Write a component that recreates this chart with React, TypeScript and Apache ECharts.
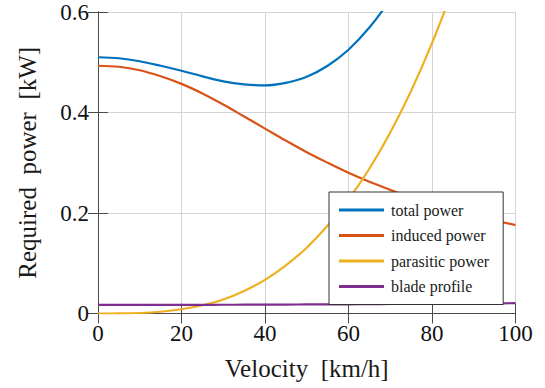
import React, { useEffect, useRef } from "react";
import * as echarts from "echarts";

// Flight speed samples [km/h]
const velocity = [0, 5, 10, 15, 20, 25, 30, 35, 40, 45, 50, 55, 60, 65, 70, 75, 80, 85, 90, 95, 100];

// Power components [kW]
const totalPower = [0.510, 0.508, 0.502, 0.493, 0.483, 0.472, 0.462, 0.456, 0.454, 0.459, 0.471, 0.493, 0.525, 0.569, 0.625, 0.693];
const inducedPower = [0.493, 0.491, 0.484, 0.472, 0.457, 0.438, 0.416, 0.392, 0.368, 0.344, 0.321, 0.300, 0.280, 0.262, 0.246, 0.231, 0.218, 0.206, 0.195, 0.185, 0.176];
const parasiticPower = [0, 0.0001, 0.001, 0.0035, 0.0084, 0.0164, 0.028, 0.045, 0.067, 0.096, 0.131, 0.175, 0.227, 0.288, 0.360, 0.443, 0.538, 0.645];
const bladeProfile = [0.0170, 0.0170, 0.0171, 0.0171, 0.0172, 0.0173, 0.0174, 0.0175, 0.0176, 0.0178, 0.0180, 0.0181, 0.0183, 0.0186, 0.0189, 0.0190, 0.0192, 0.0195, 0.0198, 0.0201, 0.0205];

const seriesNames = ["total power", "induced power", "parasitic power", "blade profile"];
const seriesColors = ["#0072BD", "#D95319", "#EDB120", "#7E2F8E"];

const pair = (ys: number[]) => ys.map((y, i) => [velocity[i], y]);

const FONT = "'Liberation Serif', 'Times New Roman', Times, serif";

export default function App() {
  const ref = useRef<HTMLDivElement>(null);

  useEffect(() => {
    if (!ref.current) return;
    const chart = echarts.init(ref.current, undefined, { renderer: "svg" });
    const axisColor = "#4a4a4a";
    const gridColor = "#d4d4d4";
    const tick = { show: true, inside: true, length: 10, lineStyle: { color: axisColor, width: 1 } };
    const datasets = [totalPower, inducedPower, parasiticPower, bladeProfile];

    chart.setOption({
      animation: false,
      backgroundColor: "#ffffff",
      textStyle: { fontFamily: FONT },
      grid: { left: 98, right: 29.5, top: 12, bottom: 74.5, containLabel: false },
      legend: {
        data: seriesNames,
        orient: "vertical",
        left: 329,
        top: 192,
        backgroundColor: "#ffffff",
        borderColor: "#333333",
        borderWidth: 1,
        padding: [9, 14, 9, 10],
        itemWidth: 45,
        itemHeight: 3,
        itemGap: 7.5,
        icon: "rect",
        textStyle: { fontFamily: FONT, fontSize: 16, color: "#1a1a1a", lineHeight: 18, padding: [0, 0, 0, 2] },
      },
      xAxis: [
        {
          type: "value",
          min: 0,
          max: 100,
          interval: 20,
          position: "bottom",
          name: "Velocity  [km/h]",
          nameLocation: "middle",
          nameGap: 42,
          nameTextStyle: { fontFamily: FONT, fontSize: 25, color: "#1a1a1a" },
          axisLine: { show: true, lineStyle: { color: axisColor, width: 1 } },
          axisTick: tick,
          axisLabel: { fontFamily: FONT, fontSize: 23, color: "#111111", margin: 8 },
          splitLine: { show: true, lineStyle: { color: gridColor, width: 1 } },
        },
        {
          type: "value",
          min: 0,
          max: 100,
          interval: 20,
          position: "top",
          axisLine: { show: true, lineStyle: { color: axisColor, width: 1 } },
          axisTick: tick,
          axisLabel: { show: false },
          splitLine: { show: false },
        },
      ],
      yAxis: [
        {
          type: "value",
          min: 0,
          max: 0.6,
          interval: 0.2,
          position: "left",
          name: "Required  power  [kW]",
          nameLocation: "middle",
          nameGap: 58,
          nameTextStyle: { fontFamily: FONT, fontSize: 25, color: "#1a1a1a" },
          axisLine: { show: true, lineStyle: { color: axisColor, width: 1 } },
          axisTick: tick,
          axisLabel: { fontFamily: FONT, fontSize: 23, color: "#111111", margin: 9 },
          splitLine: { show: true, lineStyle: { color: gridColor, width: 1 } },
        },
        {
          type: "value",
          min: 0,
          max: 0.6,
          interval: 0.2,
          position: "right",
          axisLine: { show: true, lineStyle: { color: axisColor, width: 1 } },
          axisTick: tick,
          axisLabel: { show: false },
          splitLine: { show: false },
        },
      ],
      series: datasets.map((ys, i) => ({
        name: seriesNames[i],
        type: "line",
        data: pair(ys),
        xAxisIndex: 0,
        yAxisIndex: 0,
        smooth: 0.35,
        showSymbol: false,
        symbol: "none",
        clip: true,
        color: seriesColors[i],
        lineStyle: { color: seriesColors[i], width: 2.2 },
      })),
    });

    return () => chart.dispose();
  }, []);

  return <div ref={ref} style={{ width: 545, height: 388, position: "absolute", left: 0, top: 0 }} />;
}
